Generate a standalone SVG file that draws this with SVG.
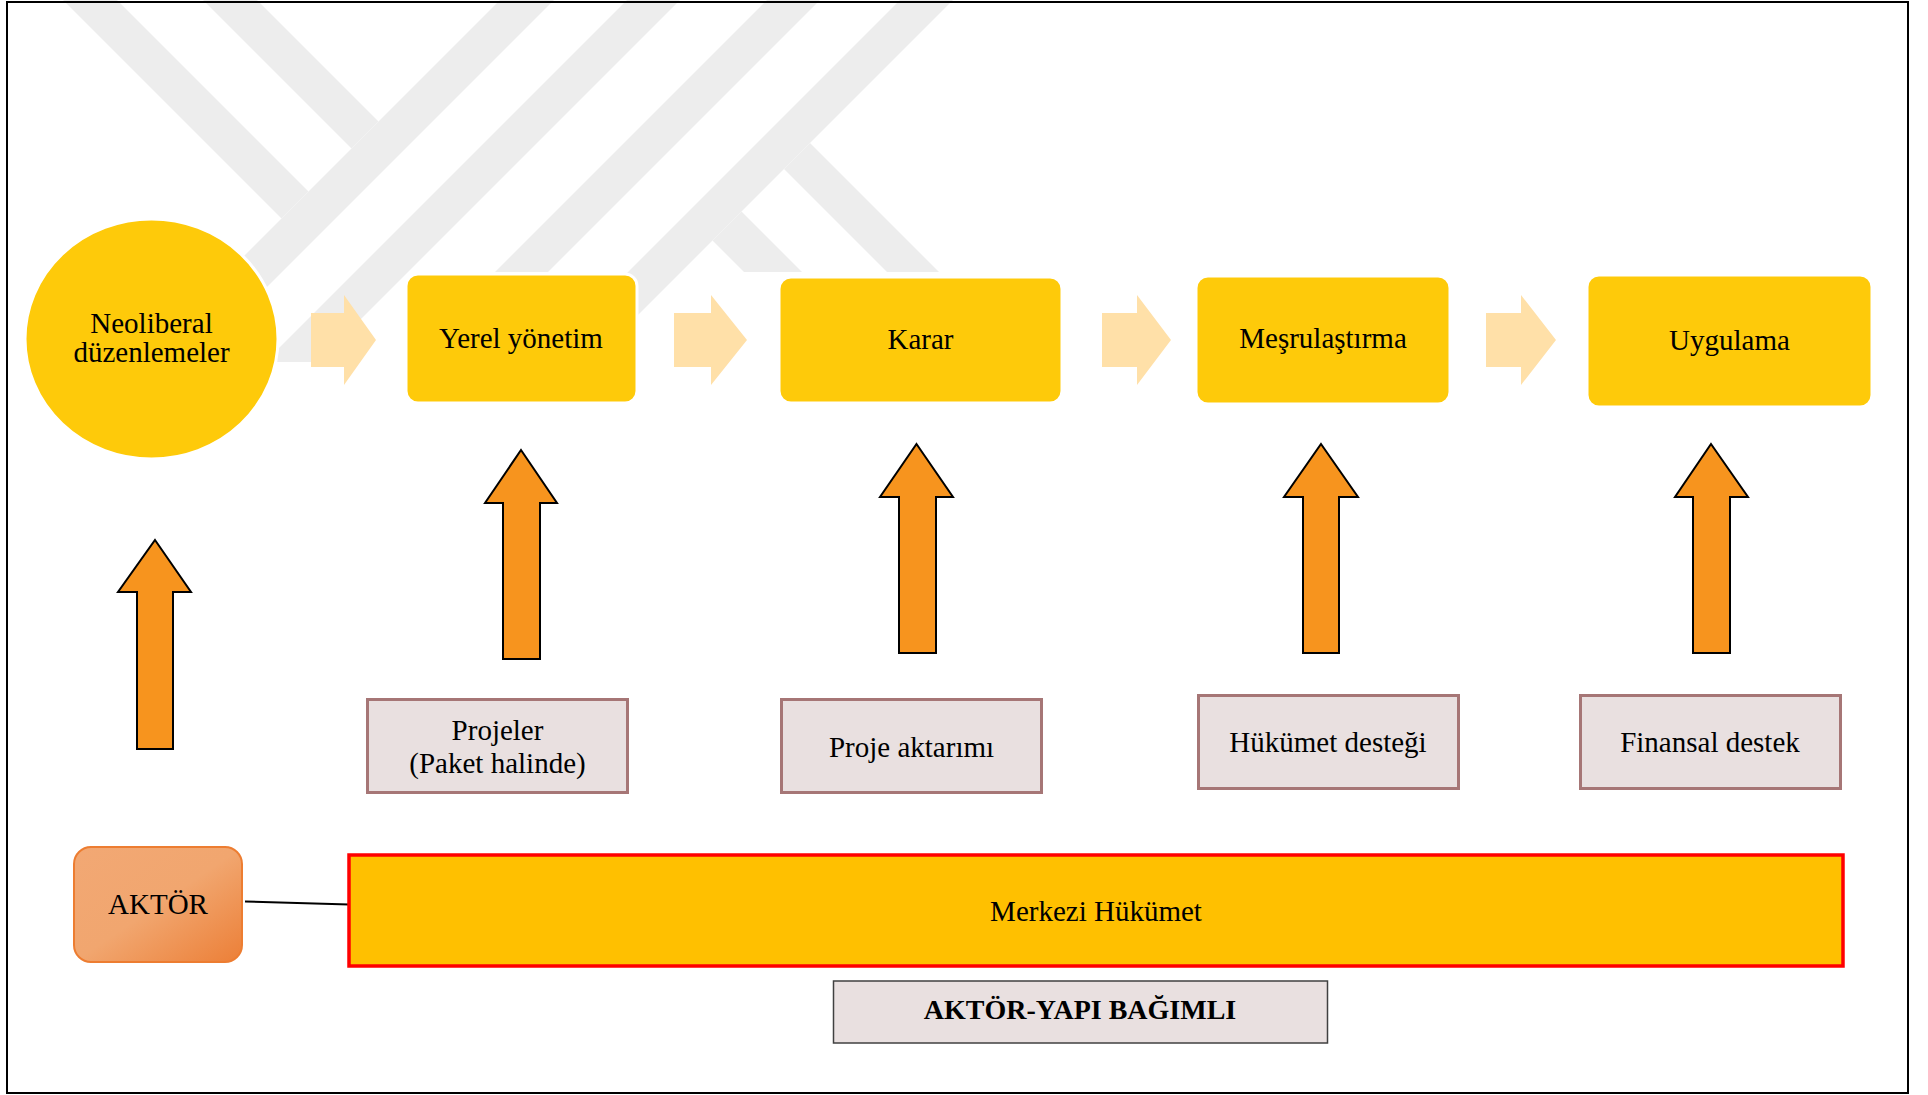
<svg xmlns="http://www.w3.org/2000/svg" width="1928" height="1095" viewBox="0 0 1928 1095">
<defs>
<style>
.t{font-family:"Liberation Serif","Times New Roman",serif;font-size:29px;fill:#000;text-anchor:middle}
.tb{font-family:"Liberation Serif","Times New Roman",serif;font-size:28px;font-weight:bold;fill:#000;text-anchor:middle}
.wm{fill:#EDEDED}
.main{fill:#FECA0A;stroke:#FFFFFF;stroke-width:3}
.chev{fill:#FFE0A8}
.up{fill:#F7941E;stroke:#000;stroke-width:2}
.sb{fill:#E9E0E0;stroke:#A67676;stroke-width:3}
</style>
<linearGradient id="gAkt" x1="0" y1="0" x2="1" y2="1">
<stop offset="0" stop-color="#F2A874"/>
<stop offset="0.5" stop-color="#F1A66F"/>
<stop offset="1" stop-color="#EC7F37"/>
</linearGradient>
</defs>
<rect x="0" y="0" width="1928" height="1095" fill="#FFFFFF"/>
<g id="watermark">
<polygon class="wm" points="63,0 117,0 308.5,191.5 281.5,218.5"/>
<polygon class="wm" points="203,0 257,0 378.5,121.5 351.5,148.5"/>
<polygon class="wm" points="500,0 554,0 192,362 138,362"/>
<polygon class="wm" points="627,0 680,0 318,362 265,362"/>
<polygon class="wm" points="767,0 820,0 548,272 495,272"/>
<polygon class="wm" points="900,0 953,0 591,362 538,362"/>
<polygon class="wm" points="810,143 939,272 887,272 784,169"/>
<polygon class="wm" points="741.5,211.5 802,272 744,272 712.5,240.5"/>
</g>
<rect x="7" y="2" width="1901" height="1091" fill="none" stroke="#000" stroke-width="2"/>
<g id="connectors">
<path class="chev" d="M311,313 H344 V295 L376,340 L344,385 V367 H311 Z"/>
<path class="chev" d="M674,313 H711 V295 L747,340 L711,385 V367 H674 Z"/>
<path class="chev" d="M1102,313 H1137 V295 L1171,340 L1137,385 V367 H1102 Z"/>
<path class="chev" d="M1486,313 H1521 V295 L1556,340 L1521,385 V367 H1486 Z"/>
<path class="up" d="M155,540 L191,592 H173 V749 H137 V592 H118 Z"/>
<path class="up" d="M521,450 L557,503 H540 V659 H503 V503 H485 Z"/>
<path class="up" d="M916.5,444 L953,497 H936 V653 H899 V497 H880 Z"/>
<path class="up" d="M1321,444 L1358,497 H1339 V653 H1303 V497 H1284 Z"/>
<path class="up" d="M1711,444 L1748,497 H1730 V653 H1693 V497 H1675 Z"/>
<line x1="245" y1="901.5" x2="349" y2="904.5" stroke="#000" stroke-width="2"/>
</g>
<g id="n-neoliberal">
<ellipse class="main" cx="151.5" cy="339" rx="126.5" ry="120"/>
<text class="t" x="151.5" y="333">Neoliberal</text>
<text class="t" x="151.5" y="362">düzenlemeler</text>
</g>
<g id="n-yerel">
<rect class="main" x="406" y="274" width="231" height="129" rx="12"/>
<text class="t" x="521" y="348">Yerel yönetim</text>
</g>
<g id="n-karar">
<rect class="main" x="779" y="277" width="283" height="126" rx="12"/>
<text class="t" x="920.5" y="349">Karar</text>
</g>
<g id="n-mesru">
<rect class="main" x="1196" y="276" width="254" height="128" rx="12"/>
<text class="t" x="1323" y="348">Meşrulaştırma</text>
</g>
<g id="n-uygulama">
<rect class="main" x="1587" y="275" width="285" height="132" rx="12"/>
<text class="t" x="1729.5" y="350">Uygulama</text>
</g>
<g id="n-projeler">
<rect class="sb" x="367.5" y="699.5" width="260" height="93"/>
<text class="t" x="497.5" y="739.5">Projeler</text>
<text class="t" x="497.5" y="772.5">(Paket halinde)</text>
</g>
<g id="n-aktarim">
<rect class="sb" x="781.5" y="699.5" width="260" height="93"/>
<text class="t" x="911.5" y="756.5">Proje aktarımı</text>
</g>
<g id="n-hukumet">
<rect class="sb" x="1198.5" y="695.5" width="260" height="93"/>
<text class="t" x="1328" y="751.5">Hükümet desteği</text>
</g>
<g id="n-finansal">
<rect class="sb" x="1580.5" y="695.5" width="260" height="93"/>
<text class="t" x="1710" y="751.5">Finansal destek</text>
</g>
<g id="n-aktor">
<rect x="74" y="847" width="168" height="115" rx="17" fill="url(#gAkt)" stroke="#ED7D31" stroke-width="2"/>
<text class="t" x="158" y="914">AKTÖR</text>
</g>
<g id="n-merkezi">
<rect x="349" y="855" width="1494" height="111" fill="#FFC000" stroke="#FF0000" stroke-width="3.5"/>
<text class="t" x="1096" y="921">Merkezi Hükümet</text>
</g>
<g id="n-bagimli">
<rect x="833.5" y="981" width="494" height="62" fill="#E9E0E0" stroke="#404040" stroke-width="1.5"/>
<text class="tb" x="1080" y="1018.5">AKTÖR-YAPI BAĞIMLI</text>
</g>
</svg>
